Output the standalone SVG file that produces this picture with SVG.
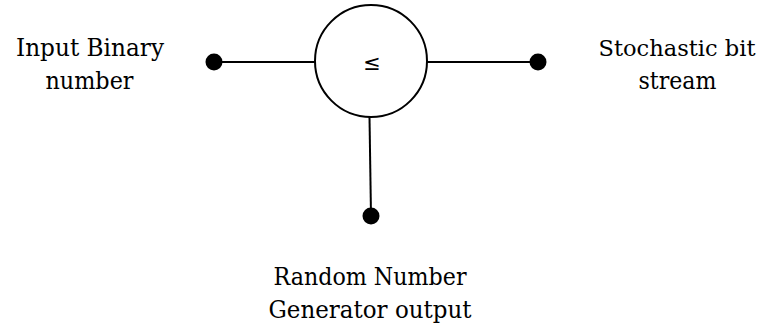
<svg xmlns="http://www.w3.org/2000/svg" width="764" height="325" viewBox="0 0 764 325">
<style>
.lbl{font-family:"DejaVu Serif","Liberation Serif",serif;font-size:25px;fill:#000;text-anchor:middle}
.ln{stroke:#000;stroke-width:2;fill:none}
.dot{fill:#000}
</style>
<rect width="764" height="325" fill="#fff"/>
<g id="connectors">
<line class="ln" x1="214" y1="62" x2="315" y2="62"/>
<line class="ln" x1="427" y1="62" x2="538" y2="62"/>
<path class="ln" d="M369.5,117 L371,216"/>
</g>
<g id="comparator">
<circle cx="371" cy="61" r="56" fill="#fff" stroke="#000" stroke-width="2"/>
<text x="372" y="70" style="font-family:'DejaVu Sans',sans-serif;font-size:21px;text-anchor:middle">≤</text>
</g>
<g id="input">
<circle class="dot" cx="214" cy="62" r="8.5"/>
<text class="lbl" x="90" y="56" textLength="148" lengthAdjust="spacingAndGlyphs">Input Binary</text>
<text class="lbl" x="89.5" y="89" textLength="88" lengthAdjust="spacingAndGlyphs">number</text>
</g>
<g id="output">
<circle class="dot" cx="538" cy="62" r="8.5"/>
<text class="lbl" x="677" y="56" textLength="157" lengthAdjust="spacingAndGlyphs" style="font-size:22px">Stochastic bit</text>
<text class="lbl" x="677.5" y="89" textLength="78" lengthAdjust="spacingAndGlyphs">stream</text>
</g>
<g id="rng">
<circle class="dot" cx="371" cy="216" r="8.5"/>
<text class="lbl" x="370" y="285" textLength="193" lengthAdjust="spacingAndGlyphs">Random Number</text>
<text class="lbl" x="370" y="318" textLength="203" lengthAdjust="spacingAndGlyphs">Generator output</text>
</g>
</svg>
